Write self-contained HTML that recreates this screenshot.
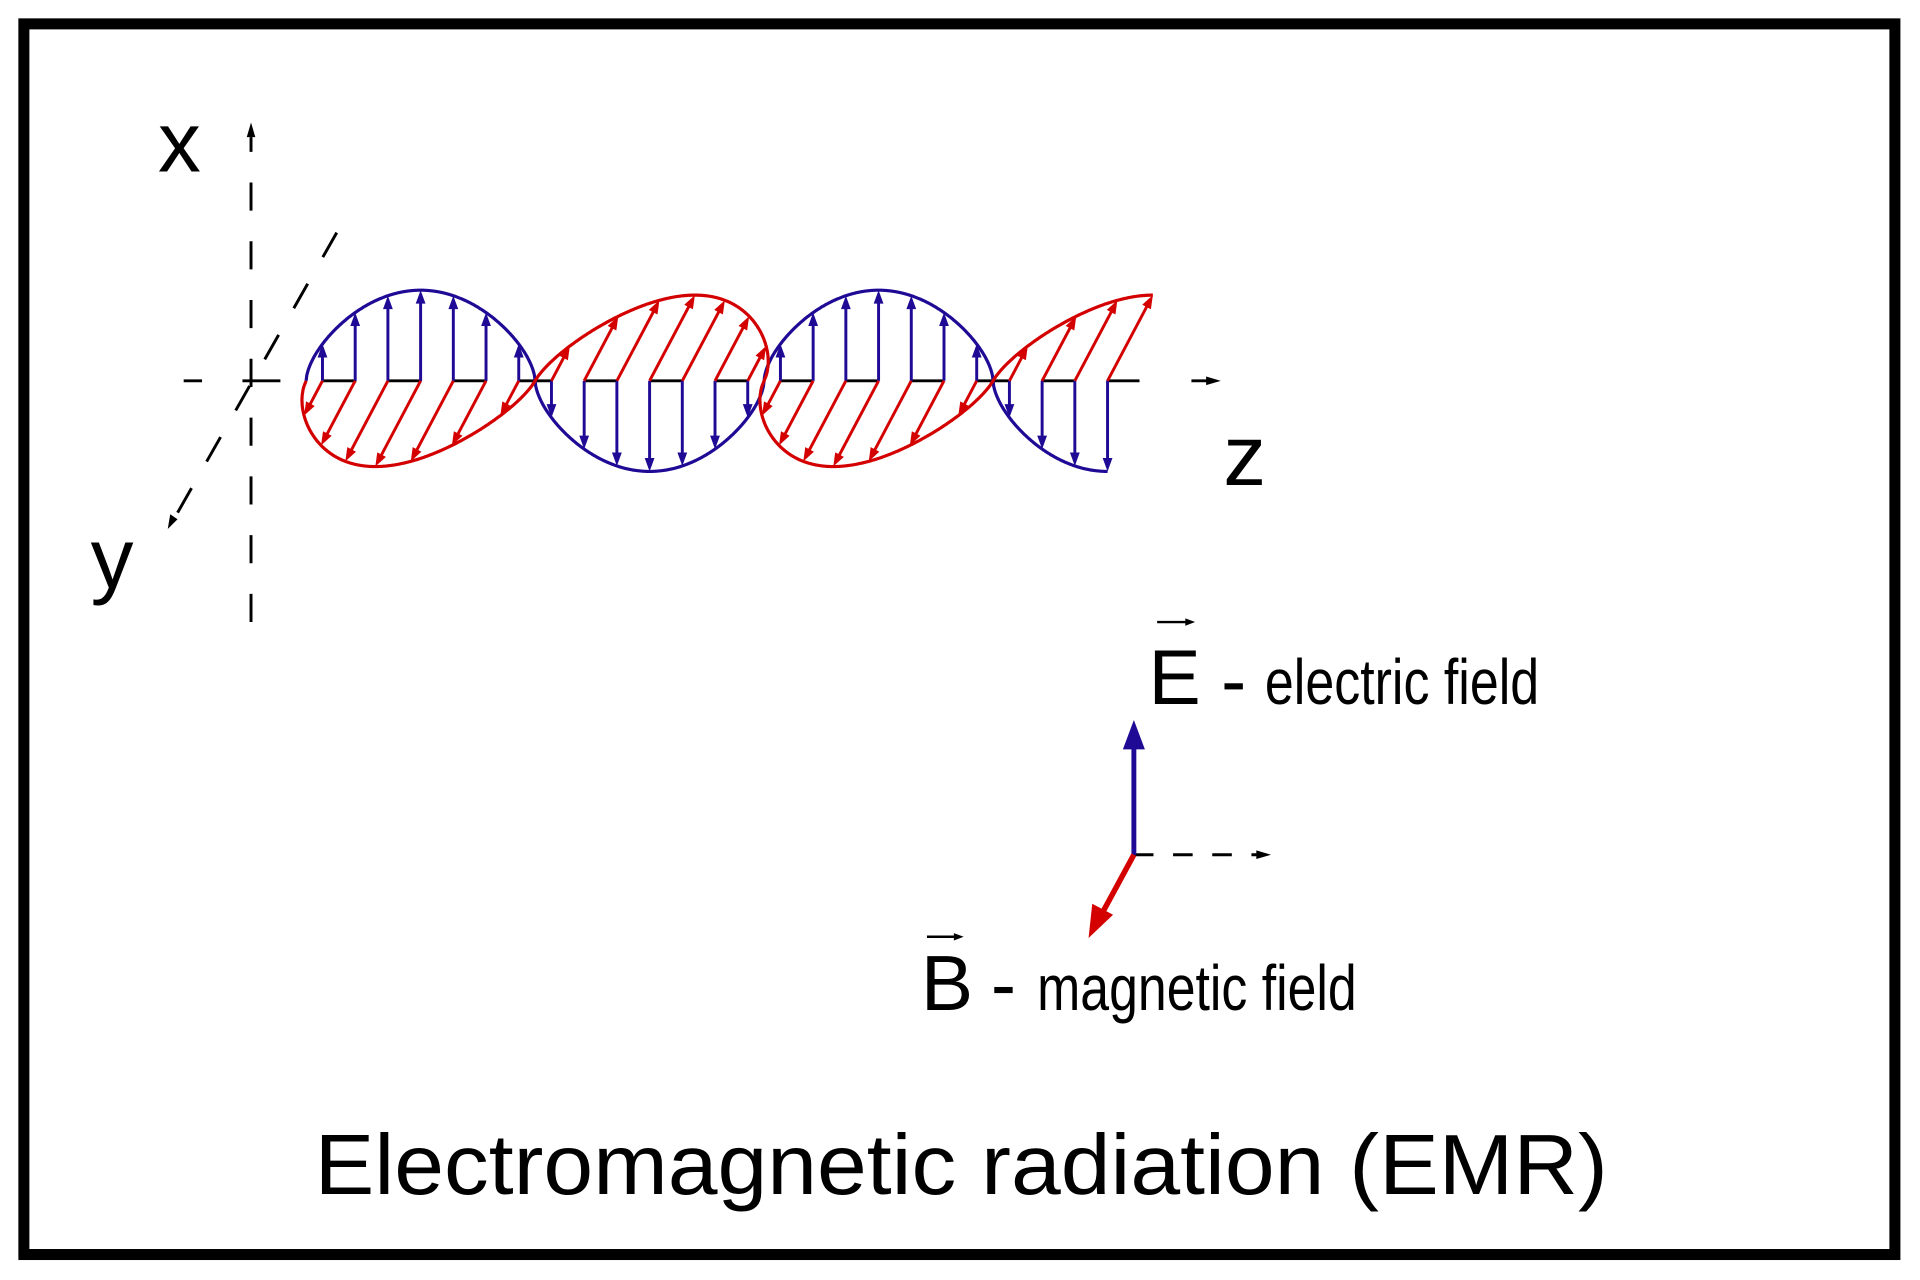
<!DOCTYPE html>
<html><head><meta charset="utf-8"><style>
html,body{margin:0;padding:0;background:#fff;}
svg{display:block;}
text{font-family:"Liberation Sans",sans-serif;fill:#000;}
</style></head><body>
<svg id="s" width="1920" height="1280" viewBox="0 0 1568 1045.3" preserveAspectRatio="none" xmlns="http://www.w3.org/2000/svg">
<rect x="0" y="0" width="1568" height="1046" fill="#fff"/>
<rect x="19.5" y="19.5" width="1528" height="1005" fill="none" stroke="#000" stroke-width="9"/>
<g stroke="#000" stroke-width="2.4" fill="none">
<line x1="205" y1="508" x2="205" y2="112" stroke-dasharray="23 25"/>
<line x1="275" y1="190" x2="142" y2="424" stroke-dasharray="23 25"/>
<line x1="150" y1="311" x2="165" y2="311"/>
<line x1="198" y1="311" x2="229" y2="311"/>
<line x1="264" y1="311" x2="942" y2="311" stroke-dasharray="27 26.3"/>
<line x1="973" y1="311" x2="986" y2="311"/>
<line x1="926" y1="698" x2="1028" y2="698" stroke-dasharray="16 16"/>
</g>
<g fill="#000">
<polygon points="205,100 201.5,112 208.5,112"/>
<polygon points="137,432 139,420 145,424"/>
<polygon points="997,311 985,307.5 985,314.5"/>
<polygon points="1038,698 1026,694.5 1026,701.5"/>
</g>
<g id="wave"></g>
<line x1="926" y1="698" x2="926" y2="610" stroke="#1f0a96" stroke-width="4"/>
<polygon points="926,588 917,612 935,612" fill="#1f0a96"/>
<line x1="926" y1="698" x2="900" y2="746" stroke="#d40000" stroke-width="4.5"/>
<polygon points="889,766 892,738 909,747" fill="#d40000"/>
<text x="129" y="140" font-size="70">x</text>
<text x="74" y="480" font-size="70">y</text>
<text x="999" y="396" font-size="70">z</text>
<text x="938" y="575" font-size="64">E</text>
<line x1="945" y1="508" x2="970" y2="508" stroke="#000" stroke-width="2"/>
<polygon points="976,508 968,505 968,511"/>
<rect x="1000" y="558" width="15" height="5" fill="#000"/>
<text x="1033" y="575" font-size="52" textLength="224" lengthAdjust="spacingAndGlyphs">electric field</text>
<text x="752" y="825" font-size="64">B</text>
<line x1="757" y1="765" x2="781" y2="765" stroke="#000" stroke-width="2"/>
<polygon points="787,765 779,762 779,768"/>
<rect x="812" y="806" width="15" height="5" fill="#000"/>
<text x="847" y="825" font-size="52" textLength="261" lengthAdjust="spacingAndGlyphs">magnetic field</text>
<text x="257" y="975" font-size="70" textLength="1056" lengthAdjust="spacingAndGlyphs">Electromagnetic radiation (EMR)</text>
</svg>
<script>
(function(){
var g=document.getElementById('wave'),NS='http://www.w3.org/2000/svg';
var z0=250,H=187,k=Math.PI/H,A=74,bx=-37,by=70,y0=311,end=z0+3.5*H;
var blue='#1f0a96',red='#d40000';
function el(t,a){var e=document.createElementNS(NS,t);for(var n in a)e.setAttribute(n,a[n]);g.appendChild(e);return e;}
function f(z){var s=Math.sin(k*(z-z0));return (s<0?-1:1)*Math.pow(Math.abs(s),0.6);}
function arrow(x1,y1,x2,y2,c){
 var dx=x2-x1,dy=y2-y1,L=Math.sqrt(dx*dx+dy*dy);if(L<1)return;
 var ux=dx/L,uy=dy/L,h=Math.min(11,L*0.6),w=4;
 el('line',{x1:x1,y1:y1,x2:x2-ux*h*0.7,y2:y2-uy*h*0.7,stroke:c,'stroke-width':2.4});
 var bxp=x2-ux*h,byp=y2-uy*h;
 el('polygon',{points:x2+','+y2+' '+(bxp-uy*w)+','+(byp+ux*w)+' '+(bxp+uy*w)+','+(byp-ux*w),fill:c});
}
var pb='',pr='';
for(var z=z0;z<=end+0.01;z+=0.5){var s=f(z);
 pb+=(pb?'L':'M')+z.toFixed(1)+','+(y0-A*s).toFixed(1);
 pr+=(pr?'L':'M')+(z+bx*s).toFixed(1)+','+(y0+by*s).toFixed(1);}
var st=H/7;
for(var i=0;z0+(i+0.5)*st<=end+0.5;i++){var z=z0+(i+0.5)*st,s=f(z);
 arrow(z,y0,z,y0-A*s,blue);
 arrow(z,y0,z+bx*s,y0+by*s,red);}
el('path',{d:pb,fill:'none',stroke:blue,'stroke-width':2.6});
el('path',{d:pr,fill:'none',stroke:red,'stroke-width':2.6});
})();
</script>
</body></html>
